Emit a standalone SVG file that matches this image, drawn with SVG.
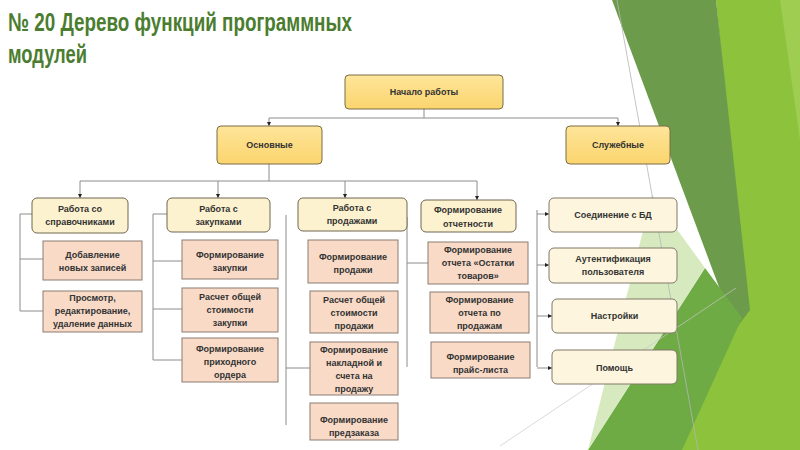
<svg xmlns="http://www.w3.org/2000/svg" width="800" height="450" viewBox="0 0 800 450">
<defs>
<style>
.t{font-family:"Liberation Sans",Arial,sans-serif;font-weight:bold;font-size:9px;fill:#333;text-anchor:middle}
.title{font-family:"Liberation Sans",Arial,sans-serif;font-weight:bold;font-size:26px;fill:#4b7d2f}
.l0{fill:url(#gy);stroke:#7a6c44;stroke-width:1}
.l2{fill:#fdf2cf;stroke:#6e6650;stroke-width:1}
.pk{fill:#f8dac7;stroke:#8c7c72;stroke-width:1}
.sv{fill:#fdf5dd;stroke:#807868;stroke-width:1}
.c{fill:none;stroke:#8c8c8c;stroke-width:1}
.ca{fill:none;stroke:#8c8c8c;stroke-width:1;marker-end:url(#ah)}
</style>
<linearGradient id="gy" x1="0" y1="0" x2="0" y2="1">
<stop offset="0" stop-color="#fee59a"/>
<stop offset="1" stop-color="#fbd56e"/>
</linearGradient>
<marker id="ah" viewBox="0 0 6 6" refX="6" refY="3" markerWidth="4" markerHeight="4" orient="auto" markerUnits="userSpaceOnUse">
<path d="M0,0 L6,3 L0,6 z" fill="#222"/>
</marker>
</defs>
<rect width="800" height="450" fill="#ffffff"/>
<g id="background">
<polygon points="716,0 800,0 800,450 588,450 745,300" fill="#8cc23c"/>
<polygon points="780,0 800,0 800,140" fill="#9fcd52"/>
<polygon points="612,0 716,0 750,310 735,330" fill="#6c9c4b"/>
<polygon points="588,450 682,450 742,318 705,268" fill="#6eab45"/>
<polygon points="652,195 705,268 588,450" fill="#d3e8b8" opacity="0.9"/>
<line x1="617" y1="0" x2="698" y2="450" stroke="#b5b5b5" stroke-width="0.8"/>
<line x1="500" y1="446" x2="736" y2="288" stroke="#c8c8c8" stroke-width="0.7"/>
</g>
<g id="title">
<text class="title" x="8" y="31" textLength="344" lengthAdjust="spacingAndGlyphs">№ 20 Дерево функций программных</text>
<text class="title" x="8" y="63" textLength="79" lengthAdjust="spacingAndGlyphs">модулей</text>
</g>
<g id="connectors">
<path class="c" d="M424,109 V118 M269,118 H618"/>
<path class="ca" d="M269,118 V126"/>
<path class="ca" d="M618,118 V126"/>
<path class="c" d="M269,164 V181 M80,181 H477"/>
<path class="ca" d="M80,181 V198"/>
<path class="ca" d="M218,181 V198"/>
<path class="ca" d="M345,181 V198"/>
<path class="ca" d="M477,181 V200"/>
<path class="c" d="M20,214 V311 M20,214 H32 M20,259 H43 M20,311 H43"/>
<path class="c" d="M153,214 V360 M153,214 H167 M153,261 H182 M153,309 H182 M153,360 H182"/>
<path class="c" d="M286,215 V425 M286,368 H310"/>
<path class="c" d="M407,217 V367 M407,263 H428"/>
<path class="c" d="M537,210 V367"/>
<path class="ca" d="M537,214 H549"/>
<path class="ca" d="M537,265 H549"/>
<path class="ca" d="M537,316 H552"/>
<path class="ca" d="M537,368 H552"/>
</g>
<g id="n-start"><rect class="l0" x="345" y="75" width="158" height="34" rx="4"/><text class="t" x="424" y="95">Начало работы</text></g>
<g id="n-main"><rect class="l0" x="217" y="126" width="105" height="38" rx="4"/><text class="t" x="269.5" y="148">Основные</text></g>
<g id="n-service"><rect class="l0" x="566" y="126" width="104" height="38" rx="4"/><text class="t" x="618" y="148">Служебные</text></g>
<g id="n-ref"><rect class="l2" x="32" y="198" width="96" height="35" rx="5"/><text class="t" x="80" y="212">Работа со</text><text class="t" x="80" y="225">справочниками</text></g>
<g id="n-buy"><rect class="l2" x="167" y="198" width="103" height="34" rx="5"/><text class="t" x="218.5" y="212">Работа с</text><text class="t" x="218.5" y="225">закупками</text></g>
<g id="n-sell"><rect class="l2" x="298" y="198" width="109" height="33" rx="5"/><text class="t" x="352" y="211">Работа с</text><text class="t" x="352" y="224">продажами</text></g>
<g id="n-rep"><rect class="l2" x="421" y="200" width="95" height="32" rx="5"/><text class="t" x="468" y="213">Формирование</text><text class="t" x="468" y="227">отчетности</text></g>
<g id="n-add"><rect class="pk" x="43" y="241" width="99" height="39"/><text class="t" x="92.5" y="257.5">Добавление</text><text class="t" x="92.5" y="270.5">новых записей</text></g>
<g id="n-view"><rect class="pk" x="43" y="291" width="99" height="41"/><text class="t" x="92.5" y="301">Просмотр,</text><text class="t" x="92.5" y="314">редактирование,</text><text class="t" x="92.5" y="327">удаление данных</text></g>
<g id="n-buy1"><rect class="pk" x="182" y="240" width="96" height="39"/><text class="t" x="230" y="258">Формирование</text><text class="t" x="230" y="271">закупки</text></g>
<g id="n-buy2"><rect class="pk" x="182" y="288" width="96" height="44"/><text class="t" x="230" y="300">Расчет общей</text><text class="t" x="230" y="313">стоимости</text><text class="t" x="230" y="326">закупки</text></g>
<g id="n-buy3"><rect class="pk" x="182" y="338" width="96" height="44"/><text class="t" x="230" y="352">Формирование</text><text class="t" x="230" y="365">приходного</text><text class="t" x="230" y="378">ордера</text></g>
<g id="n-sell1"><rect class="pk" x="308" y="240" width="90" height="43"/><text class="t" x="353" y="260">Формирование</text><text class="t" x="353" y="273">продажи</text></g>
<g id="n-sell2"><rect class="pk" x="310" y="291" width="88" height="42"/><text class="t" x="354" y="303">Расчет общей</text><text class="t" x="354" y="316">стоимости</text><text class="t" x="354" y="329">продажи</text></g>
<g id="n-sell3"><rect class="pk" x="310" y="342" width="88" height="53"/><text class="t" x="354" y="353">Формирование</text><text class="t" x="354" y="366">накладной и</text><text class="t" x="354" y="379">счета на</text><text class="t" x="354" y="392">продажу</text></g>
<g id="n-sell4"><rect class="pk" x="310" y="403" width="88" height="37"/><text class="t" x="354" y="423">Формирование</text><text class="t" x="354" y="436">предзаказа</text></g>
<g id="n-rep1"><rect class="pk" x="428" y="242" width="100" height="42"/><text class="t" x="478" y="253">Формирование</text><text class="t" x="478" y="266">отчета «Остатки</text><text class="t" x="478" y="279">товаров»</text></g>
<g id="n-rep2"><rect class="pk" x="430" y="292" width="99" height="41"/><text class="t" x="479.5" y="303">Формирование</text><text class="t" x="479.5" y="316">отчета по</text><text class="t" x="479.5" y="329">продажам</text></g>
<g id="n-rep3"><rect class="pk" x="431" y="342" width="99" height="36"/><text class="t" x="480.5" y="360">Формирование</text><text class="t" x="480.5" y="373">прайс-листа</text></g>
<g id="n-db"><rect class="sv" x="549" y="198" width="128" height="34" rx="5"/><text class="t" x="613" y="218">Соединение с БД</text></g>
<g id="n-auth"><rect class="sv" x="549" y="248" width="128" height="35" rx="5"/><text class="t" x="613" y="262">Аутентификация</text><text class="t" x="613" y="275">пользователя</text></g>
<g id="n-set"><rect class="sv" x="552" y="299" width="125" height="34" rx="5"/><text class="t" x="614.5" y="319">Настройки</text></g>
<g id="n-help"><rect class="sv" x="552" y="350" width="125" height="34" rx="5"/><text class="t" x="614.5" y="371">Помощь</text></g>
</svg>
